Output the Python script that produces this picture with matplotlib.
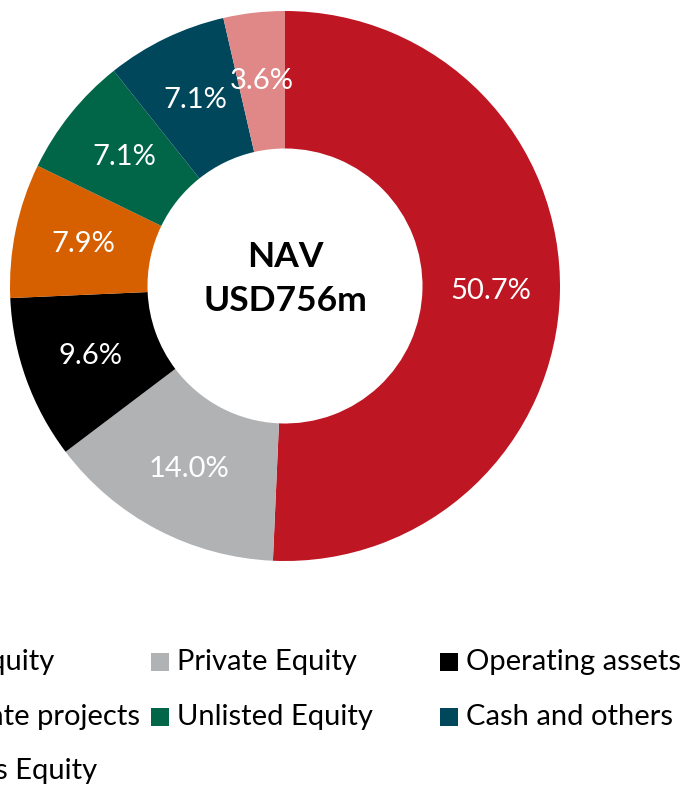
import matplotlib.pyplot as plt
from matplotlib.patches import Rectangle

labels = ['Listed Equity', 'Private Equity', 'Operating assets',
          'Real estate projects', 'Unlisted Equity', 'Cash and others',
          'Warrants Equity']
shares = [50.7, 14.0, 9.6, 7.9, 7.1, 7.1, 3.6]
colors = ['#BE1622', '#B1B2B4', '#000000', '#D65F00', '#006647', '#00475C', '#E08888']
center_title = 'NAV'
center_value = 'USD756m'

plt.rcParams['font.family'] = ['Lato', 'DejaVu Sans']

W, H = 684, 785
fig = plt.figure(figsize=(W / 100, H / 100), dpi=100)

# donut: centre at (285, 286) px from top-left, outer radius 275 px
cx, cy, r = 285, 286, 275
ax = fig.add_axes([(cx - r) / W, (H - cy - r) / H, 2 * r / W, 2 * r / H])
wedges, texts, autotexts = ax.pie(
    shares, colors=colors, startangle=90, counterclock=False, radius=1,
    autopct='%.1f%%', pctdistance=0.75,
    wedgeprops=dict(width=0.5, edgecolor='none'),
    textprops=dict(color='white', fontsize=21))
ax.set_xlim(-1, 1)
ax.set_ylim(-1, 1)
ax.axis('off')

ax.text(0, 0.105, center_title, ha='center', va='center', fontsize=25.5, fontweight='bold')
ax.text(0, -0.055, center_value, ha='center', va='center', fontsize=25.5, fontweight='bold')

# legend laid out like the source: 3 columns of equal width, rows 55 px apart
col_x = [-138, 151, 440]
row_y = [662, 717, 771]
box = 18
for i, (lab, col) in enumerate(zip(labels, colors)):
    row, c = divmod(i, 3)
    x, y = col_x[c], row_y[row]
    fig.add_artist(Rectangle((x / W, (H - y - box / 2) / H), box / W, box / H,
                             transform=fig.transFigure, facecolor=col, edgecolor='none'))
    fig.text((x + 26) / W, (H - y) / H, lab, ha='left', va='center', fontsize=21)

fig.savefig('out.png', dpi=100)
